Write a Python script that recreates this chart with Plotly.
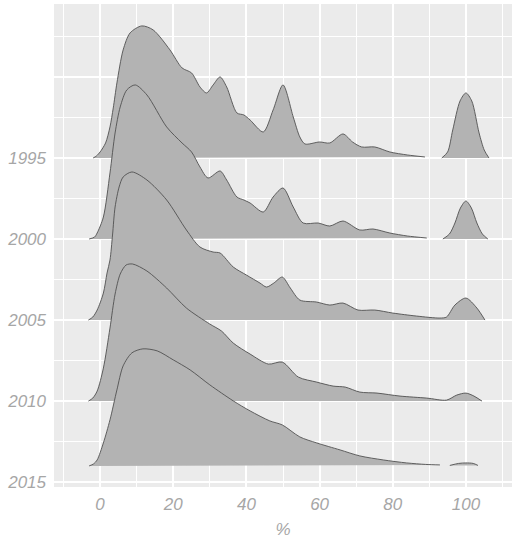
import plotly.graph_objects as go

# ridge baselines (year) and densities (relative units)
years = [1995, 2000, 2005, 2010, 2014]

x_1995 = [-1.9, -1, 0, 1.5, 2.7, 3.6, 4.6, 6.3, 8.2, 11.4, 14.5, 19.1, 22.4, 25, 27.3, 29.1, 30.9,
          32.8, 34.6, 37.4, 39.3, 41, 44.6, 47.3, 50, 52.8, 54.6, 56, 60, 62.8, 66.4, 69, 71.5,
          75.1, 79.2, 84, 88.8, None, 93.4, 95, 96.4, 98.4, 100, 101.6, 103.6, 105, 106.3]
d_1995 = [0, 2, 6, 15, 31, 50, 75, 108, 125, 132, 128, 108, 90, 85, 71, 65, 73,
          81, 71, 45, 43, 38, 26, 48, 73, 41, 21, 14, 16, 15, 24, 16, 11,
          11, 6, 3, 1, None, 0, 6, 28, 57, 65, 57, 25, 8, 0]

x_2000 = [-3, -1.5, -0.8, 0.9, 2.7, 4.1, 5.5, 7.3, 9.6, 12.8, 18.2, 22.4, 25, 27.3, 29.5, 32.8,
          34.6, 37.4, 39.3, 41, 44.6, 47.3, 50, 52.8, 55.5, 59.6, 62.8, 66.4, 71, 74.6, 79.2, 84,
          89.3, None, 93.7, 95.5, 97, 98.5, 100, 101.5, 103, 104.5, 106]
d_2000 = [0, 2, 6, 22, 66, 106, 132, 149, 154, 144, 112, 96, 87, 72, 61, 68,
          59, 42, 39, 36, 27, 42, 51, 32, 16, 16, 13, 18, 9, 10, 6, 3,
          1, None, 0, 5, 16, 31, 38, 31, 16, 5, 0]

x_2005 = [-3.2, -2, -0.8, 0.9, 1.9, 2.7, 3.4, 4.1, 5.2, 6.3, 8.7, 12.8, 18.2, 23.6, 27.3, 30.9,
          32.8, 36.4, 40, 43.7, 45.5, 47.5, 49.8, 52, 54.6, 59.2, 62.8, 66.4, 70.5, 75.1, 80,
          86.5, 92.9, 94.7, 97, 100, 103, 105.2]
d_2005 = [0, 3, 10, 27, 47, 60, 85, 113, 133, 143, 148, 140, 120, 90, 73, 68,
          67, 53, 45, 37, 33, 37, 43, 32, 20, 18, 15, 17, 10, 10, 7,
          4, 2, 3, 15, 22, 12, 0]

x_2010 = [-3.2, -2, -0.8, 0.9, 2.7, 4.1, 5.5, 7.1, 8.9, 12.8, 18.2, 23.6, 30, 33.2, 36.4, 41,
          46, 49.8, 54.2, 59.2, 63.7, 67, 71, 75.7, 82, 89.3, 94.7, 97.5, 100, 102.2, 104.4]
d_2010 = [0, 3, 10, 33, 73, 107, 127, 136, 137, 130, 113, 93, 77, 70, 58, 47,
          37, 39, 24, 19, 15, 14, 9, 8, 5, 3, 1, 6, 8, 5, 0]

x_2014 = [-3, -1.8, -0.8, 0.9, 2.7, 4.6, 6.3, 8.7, 11.7, 15.6, 20, 24.6, 30, 36.4, 41, 46.4,
          49.8, 54.6, 59.2, 65.6, 71, 77.4, 83.8, 89, 92.9, None, 95.6, 98, 100, 102, 103.3]
d_2014 = [0, 2, 6, 23, 46, 76, 100, 113, 117, 115, 106, 96, 81, 65, 55, 45,
          41, 29, 23, 16, 10, 6, 3, 1.5, 1, None, 0.5, 2.5, 3, 2.5, 0.5]

ridges = [(1995, x_1995, d_1995), (2000, x_2000, d_2000), (2005, x_2005, d_2005),
          (2010, x_2010, d_2010), (2014, x_2014, d_2014)]

x_ticks = [0, 20, 40, 60, 80, 100]
y_ticks = [1990, 1995, 2000, 2005, 2010, 2015]
y_labels = ["", "1995", "2000", "2005", "2010", "2015"]

scale = 1 / 16.2  # density unit -> years on the y axis

fig = go.Figure()

# draw top ridge first so lower ones overlap it
for yr, xs, ds in ridges:
    ys = [None if d is None else yr - d * scale for d in ds]
    fig.add_trace(go.Scatter(
        x=xs, y=ys, mode="lines", fill="toself", fillcolor="#B3B3B3",
        line=dict(color="#505050", width=0.9, shape="spline", smoothing=0.8),
        connectgaps=False, showlegend=False, hoverinfo="skip"))

tickfont = dict(family="Liberation Sans, Arial, sans-serif", size=17, color="#A6A6A6", style="italic")

fig.update_xaxes(
    range=[-12.6, 112.6], tickvals=x_ticks, showgrid=True, gridcolor="white", gridwidth=1.5,
    minor=dict(tickvals=[-10, 10, 30, 50, 70, 90, 110], showgrid=True, gridcolor="white", gridwidth=0.7),
    zeroline=False, showline=False, ticks="", tickfont=tickfont, ticklabelstandoff=5,
    title=dict(text="%", font=tickfont, standoff=10))

fig.update_yaxes(
    range=[2015.3, 1985.5], tickvals=y_ticks, ticktext=y_labels, showgrid=True,
    gridcolor="white", gridwidth=1.5,
    minor=dict(tickvals=[1987.5, 1992.5, 1997.5, 2002.5, 2007.5, 2012.5], showgrid=True,
               gridcolor="white", gridwidth=0.7),
    zeroline=False, showline=False, ticks="", tickfont=tickfont, ticklabelstandoff=7)

fig.update_layout(
    width=517, height=539, margin=dict(l=54, r=5, t=4, b=52, autoexpand=False),
    plot_bgcolor="#EBEBEB", paper_bgcolor="white")

# the page's default body margin would shift the figure
fig.write_html("out.html", config={"displayModeBar": False},
               post_script="document.body.style.margin='0';document.body.style.overflow='hidden';")
